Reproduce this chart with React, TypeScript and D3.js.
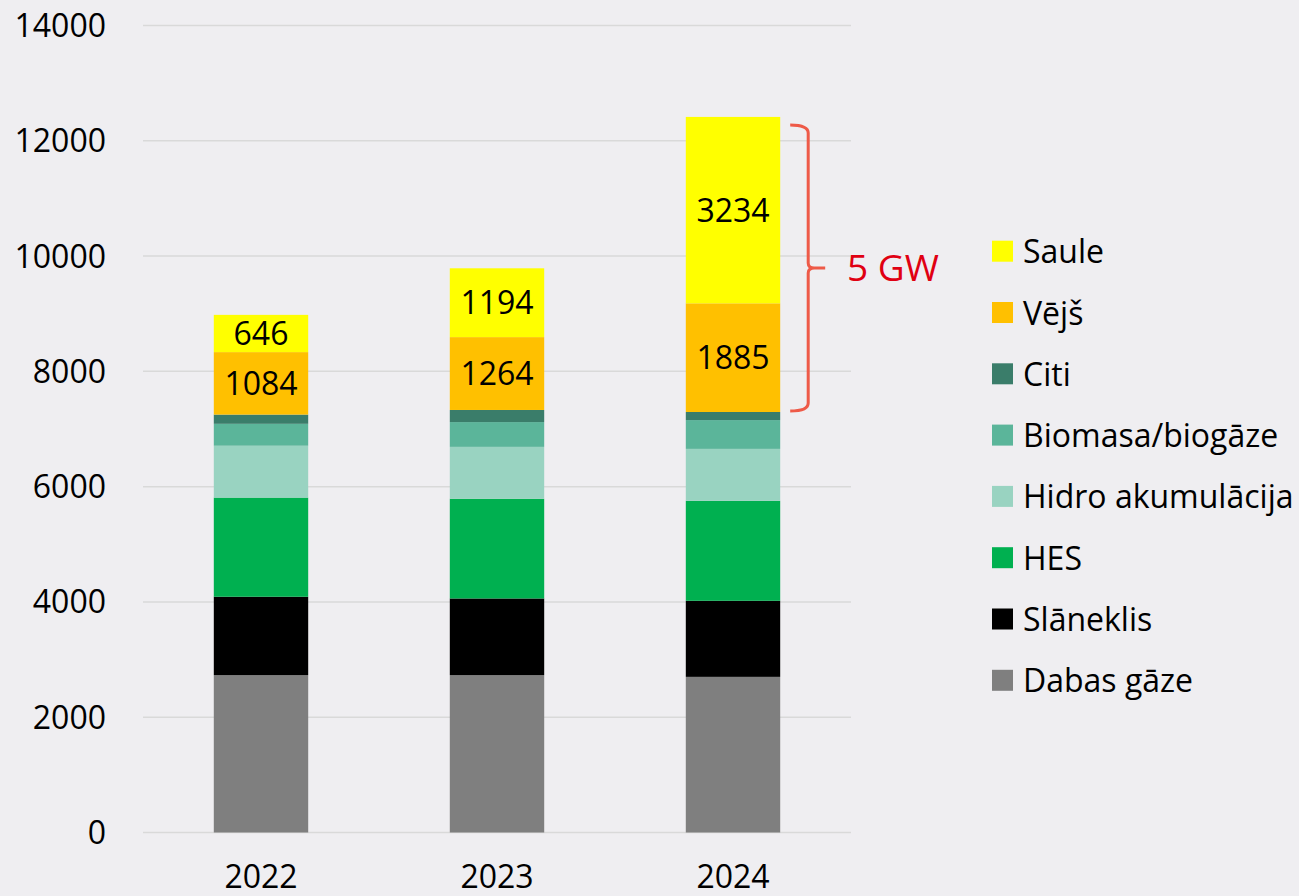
import { useEffect, useRef } from "react";
import * as d3 from "d3";

const years = ["2022", "2023", "2024"];
const dabasGaze = [2730, 2730, 2700];
const slaneklis = [1360, 1330, 1320];
const hes = [1720, 1730, 1735];
const hidroAkum = [900, 900, 900];
const biomasa = [380, 430, 500];
const citi = [160, 210, 140];
const vejs = [1084, 1264, 1885];
const saule = [646, 1194, 3234];

const seriesNames = ["Dabas gāze", "Slāneklis", "HES", "Hidro akumulācija", "Biomasa/biogāze", "Citi", "Vējš", "Saule"];
const seriesValues = [dabasGaze, slaneklis, hes, hidroAkum, biomasa, citi, vejs, saule];
const seriesColors = ["#7f7f7f", "#000000", "#00b050", "#99d3c1", "#5bb59a", "#3a7d6a", "#ffc000", "#ffff00"];
const labelled = ["Vējš", "Saule"];
const yTicks = [0, 2000, 4000, 6000, 8000, 10000, 12000, 14000];
const bracketText = "5 GW";

const W = 1299;
const H = 896;
const FONT = "'Open Sans', sans-serif";

export default function App() {
  const svgRef = useRef<SVGSVGElement | null>(null);

  useEffect(() => {
    const svg = d3.select(svgRef.current);
    svg.selectAll("*").remove();

    const rows = years.map((year, i) => {
      const r: any = { year };
      seriesNames.forEach((n, k) => (r[n] = seriesValues[k][i]));
      return r;
    });
    const stacked = d3.stack().keys(seriesNames)(rows);

    const x = d3.scaleBand().domain(years).range([143, 851]).paddingInner(0.6).paddingOuter(0.3);
    const y = d3.scaleLinear().domain([0, 14000]).range([832.5, 25.5]);

    svg.append("rect").attr("width", W).attr("height", H).attr("fill", "#efeef1");

    // gridlines + tick labels
    const grid = svg.append("g");
    grid.selectAll("line")
      .data(yTicks)
      .join("line")
      .attr("x1", 143)
      .attr("x2", 851)
      .attr("y1", d => y(d))
      .attr("y2", d => y(d))
      .attr("stroke", "#d9d9d9")
      .attr("stroke-width", 1.5);
    grid.selectAll("text")
      .data(yTicks)
      .join("text")
      .attr("x", 106)
      .attr("y", d => y(d))
      .attr("dy", "0.36em")
      .attr("text-anchor", "end")
      .attr("font-family", FONT)
      .attr("font-size", 32)
      .attr("fill", "#000")
      .text(d => String(d));

    // bars
    const layers = svg.append("g")
      .selectAll("g")
      .data(stacked)
      .join("g")
      .attr("fill", (d, i) => seriesColors[i]);
    layers.selectAll("rect")
      .data(d => d)
      .join("rect")
      .attr("x", d => x(d.data.year as any)!)
      .attr("width", x.bandwidth())
      .attr("y", d => y(d[1]))
      .attr("height", d => y(d[0]) - y(d[1]));

    // value labels on wind and solar
    stacked.filter(s => labelled.includes(s.key)).forEach(s => {
      svg.append("g")
        .selectAll("text")
        .data(s)
        .join("text")
        .attr("x", d => x(d.data.year as any)! + x.bandwidth() / 2)
        .attr("y", d => (y(d[0]) + y(d[1])) / 2)
        .attr("dy", "0.36em")
        .attr("text-anchor", "middle")
        .attr("font-family", FONT)
        .attr("font-size", 32)
        .attr("fill", "#000")
        .text(d => String(d[1] - d[0]));
    });

    // year labels
    svg.append("g")
      .selectAll("text")
      .data(years)
      .join("text")
      .attr("x", d => x(d)! + x.bandwidth() / 2)
      .attr("y", 888)
      .attr("text-anchor", "middle")
      .attr("font-family", FONT)
      .attr("font-size", 32)
      .attr("fill", "#000")
      .text(d => d);

    // brace over the 2024 wind + solar
    const last = years.length - 1;
    const top = y(stacked[7][last][1]) + 8;
    const bot = y(stacked[6][last][0]) - 1;
    const mid = (top + bot) / 2;
    const x0 = x(years[last])! + x.bandwidth() + 10;
    const x1 = x0 + 18;
    const x2 = x1 + 17;
    const brace = [
      `M${x0},${top}`,
      `Q${x1},${top} ${x1},${top + 8}`,
      `L${x1},${mid - 5}`,
      `Q${x1},${mid} ${x1 + 6},${mid}`,
      `L${x2},${mid}`,
      `M${x1 + 6},${mid}`,
      `Q${x1},${mid} ${x1},${mid + 5}`,
      `L${x1},${bot - 8}`,
      `Q${x1},${bot} ${x0},${bot}`,
    ].join(" ");
    svg.append("path")
      .attr("d", brace)
      .attr("fill", "none")
      .attr("stroke", "#ee5a48")
      .attr("stroke-width", 3);
    svg.append("text")
      .attr("x", 847)
      .attr("y", mid)
      .attr("dy", "0.36em")
      .attr("font-family", FONT)
      .attr("font-size", 37)
      .attr("fill", "#e00012")
      .text(bracketText);

    // legend, top = last series
    const legend = svg.append("g")
      .selectAll("g")
      .data(seriesNames.map((n, i) => ({ n, c: seriesColors[i] })).reverse())
      .join("g")
      .attr("transform", (d, i) => `translate(992,${251.7 + i * 61.3})`);
    legend.append("rect")
      .attr("x", 0)
      .attr("y", -11)
      .attr("width", 21)
      .attr("height", 21)
      .attr("fill", d => d.c);
    legend.append("text")
      .attr("x", 31)
      .attr("y", 0)
      .attr("dy", "0.36em")
      .attr("font-family", FONT)
      .attr("font-size", 32)
      .attr("fill", "#000")
      .text(d => d.n);
  }, []);

  return (
    <svg
      ref={svgRef}
      width={W}
      height={H}
      style={{ position: "absolute", left: 0, top: 0, display: "block" }}
    />
  );
}
